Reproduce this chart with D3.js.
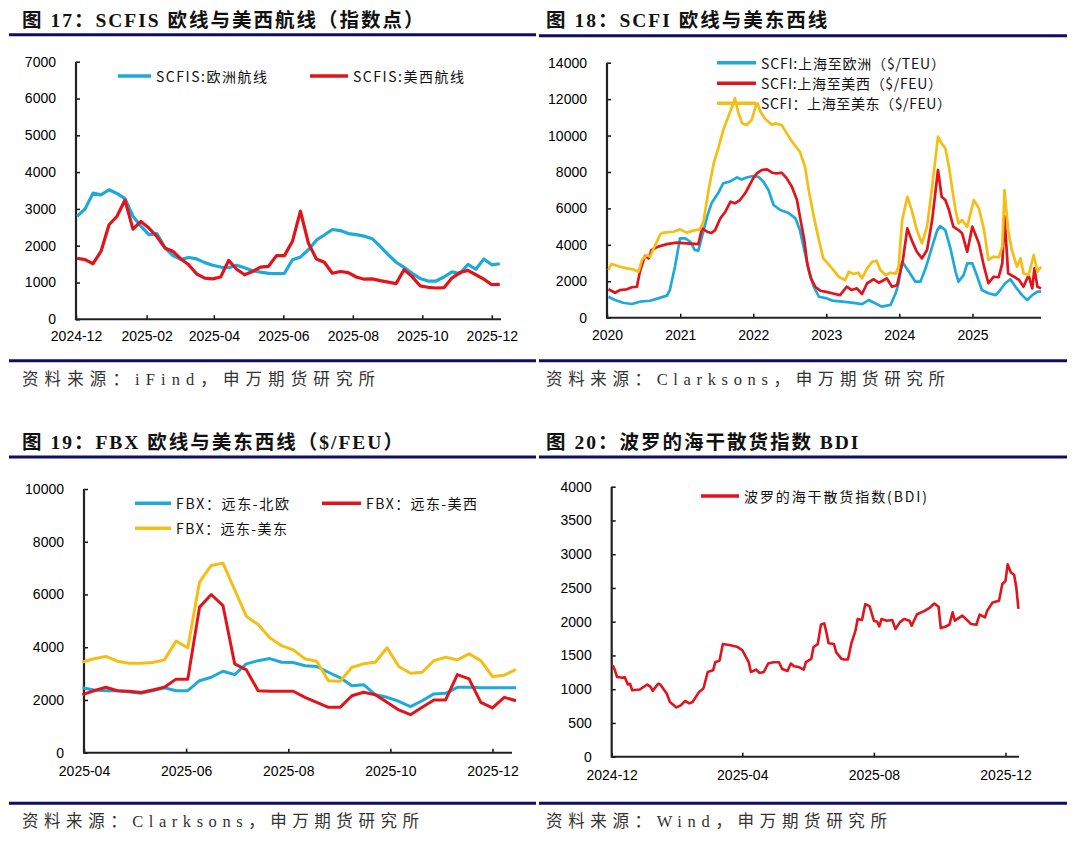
<!DOCTYPE html>
<html>
<head>
<meta charset="utf-8">
<script src="https://cdn.jsdelivr.net/npm/d3@7/dist/d3.min.js"></script>
<style>
  body { margin: 0; background: #fff; }
</style>
</head>
<body>
<svg id="page" width="1074" height="854"></svg>
<script>
// 图17 SCFIS, weekly values from scfisStart
var scfisStart = '2024-12-02';
var scfisEurope = [2800, 3000, 3430, 3380, 3520, 3420, 3280, 2800, 2530, 2300,
                   2330, 1950, 1730, 1630, 1680, 1640, 1540, 1470, 1420, 1400,
                   1470, 1400, 1320, 1280, 1250, 1240, 1250, 1620, 1690, 1890,
                   2150, 2290, 2440, 2410, 2330, 2300, 2260, 2190, 1980, 1760,
                   1550, 1410, 1250, 1110, 1040, 1040, 1150, 1290, 1240, 1490,
                   1360, 1640, 1480, 1510];
var scfisUSWest = [1660, 1620, 1510, 1850, 2570, 2800, 3240, 2450, 2660, 2480,
                   2250, 1940, 1850, 1640, 1480, 1230, 1120, 1100, 1150, 1600,
                   1360, 1210, 1300, 1420, 1440, 1730, 1730, 2120, 2940, 2070,
                   1640, 1550, 1250, 1300, 1270, 1150, 1090, 1100, 1050, 1010,
                   970, 1350, 1160, 910, 870, 850, 860, 1120, 1270, 1330,
                   1210, 1090, 940, 950];
var scfisXTicks = ['2024-12-01', '2025-02-01', '2025-04-01', '2025-06-01', '2025-08-01', '2025-10-01', '2025-12-01'];
var scfisYTicks = [0, 1000, 2000, 3000, 4000, 5000, 6000, 7000];

// 图18 SCFI, [years after 2020-01-01, value]
var scfiEurope = [[0.02,1150],[0.11,970],[0.22,820],[0.34,750],[0.45,880],[0.59,930],[0.70,1060],[0.82,1210],
  [0.86,1520],[0.93,2800],[1.00,4360],[1.07,4360],[1.14,4170],[1.20,3720],[1.25,3680],[1.30,4450],[1.37,5550],
  [1.43,6280],[1.52,6830],[1.59,7380],[1.68,7470],[1.78,7700],[1.84,7590],[1.91,7700],[2.00,7780],[2.07,7740],
  [2.14,7470],[2.21,7010],[2.28,6190],[2.37,5910],[2.48,5760],[2.58,5450],[2.64,4810],[2.69,3900],[2.76,2620],
  [2.83,1700],[2.90,1150],[3.01,1060],[3.08,940],[3.22,880],[3.35,830],[3.49,750],[3.58,970],[3.67,790],
  [3.76,610],[3.88,700],[3.95,1340],[3.99,1890],[4.04,3070],[4.13,2530],[4.22,1980],[4.29,1980],[4.36,2710],
  [4.45,3900],[4.52,4810],[4.56,5030],[4.63,4810],[4.70,3810],[4.77,2530],[4.81,1980],[4.88,2340],[4.93,2980],
  [5.00,2980],[5.06,2340],[5.13,1520],[5.22,1340],[5.32,1240],[5.38,1520],[5.45,1890],[5.52,2110],[5.59,1700],
  [5.68,1240],[5.75,970],[5.82,1240],[5.89,1430],[5.94,1430]];
var scfiUSWest = [[0.02,1560],[0.11,1370],[0.18,1520],[0.27,1560],[0.34,1670],[0.41,1700],[0.45,2530],[0.52,3390],
  [0.57,3260],[0.61,3720],[0.70,3900],[0.82,4040],[0.95,4120],[1.09,4080],[1.25,4040],[1.30,4900],[1.37,4720],
  [1.43,4650],[1.48,4810],[1.55,5450],[1.62,5820],[1.69,6370],[1.75,6280],[1.82,6460],[1.89,6830],[1.94,7190],
  [2.00,7650],[2.05,7920],[2.12,8110],[2.19,8140],[2.26,7960],[2.32,7920],[2.39,7960],[2.46,7650],[2.53,7190],
  [2.60,6460],[2.64,5550],[2.70,4260],[2.74,2980],[2.79,2160],[2.85,1700],[2.92,1480],[3.00,1420],[3.08,1340],
  [3.19,1240],[3.28,1700],[3.35,1520],[3.42,1610],[3.49,1300],[3.56,1890],[3.65,2110],[3.72,1920],[3.76,2000],
  [3.83,2160],[3.90,1700],[3.97,1790],[4.05,3170],[4.11,4900],[4.17,4260],[4.24,3620],[4.31,3260],[4.38,3720],
  [4.45,5360],[4.53,8110],[4.58,6640],[4.63,6460],[4.68,5910],[4.74,5000],[4.81,4810],[4.86,4630],[4.93,3620],
  [5.00,5000],[5.09,4080],[5.16,2800],[5.22,1890],[5.29,2250],[5.36,2220],[5.41,2980],[5.44,5550],[5.49,2430],
  [5.57,2250],[5.64,2070],[5.70,1700],[5.77,2340],[5.82,1610],[5.85,2710],[5.89,1700],[5.94,1610]];
var scfiUSEast = [[0.02,2620],[0.06,2950],[0.18,2800],[0.27,2710],[0.36,2650],[0.43,2520],[0.48,3170],[0.54,3440],
  [0.59,3350],[0.64,3810],[0.73,4590],[0.77,4670],[0.91,4720],[1.00,4850],[1.09,4670],[1.18,4780],[1.27,4850],
  [1.32,5270],[1.39,7010],[1.46,8470],[1.53,9390],[1.59,10300],[1.66,11030],[1.73,11770],[1.75,12040],[1.80,11220],
  [1.85,10670],[1.91,10580],[1.98,10850],[2.04,11680],[2.06,11770],[2.10,11310],[2.16,10940],[2.26,10580],
  [2.30,10670],[2.39,10580],[2.46,10120],[2.55,9570],[2.64,9110],[2.71,8290],[2.76,7010],[2.83,5550],[2.90,4260],
  [2.96,3250],[3.06,2800],[3.17,2250],[3.26,2070],[3.31,2530],[3.37,2400],[3.44,2470],[3.49,2160],[3.56,2710],
  [3.63,3070],[3.69,3130],[3.74,2620],[3.81,2340],[3.88,2470],[3.95,2420],[3.99,2800],[4.04,5360],[4.11,6640],
  [4.17,5910],[4.24,4810],[4.31,4080],[4.38,5000],[4.45,7190],[4.53,9940],[4.58,9570],[4.63,9300],[4.68,8290],
  [4.72,7190],[4.77,5910],[4.81,5180],[4.86,5360],[4.93,5000],[5.02,6460],[5.09,6000],[5.16,4810],[5.22,3170],
  [5.29,3350],[5.36,3310],[5.41,3900],[5.44,7010],[5.49,4810],[5.54,3720],[5.61,2800],[5.66,3260],[5.70,2430],
  [5.77,2340],[5.84,3440],[5.89,2530],[5.94,2800]];
var scfiXTicks = ['2020-01-01', '2021-01-01', '2022-01-01', '2023-01-01', '2024-01-01', '2025-01-01'];
var scfiYTicks = [0, 2000, 4000, 6000, 8000, 10000, 12000, 14000];

// 图19 FBX, weekly values from fbxStart
var fbxStart = '2025-03-31';
var fbxEurope = [2460, 2380, 2350, 2350, 2300, 2250, 2350, 2460, 2350, 2350,
                 2730, 2860, 3090, 2960, 3370, 3490, 3570, 3430, 3420, 3300,
                 3270, 3050, 2840, 2540, 2580, 2200, 2100, 1950, 1750, 1970,
                 2230, 2250, 2480, 2480, 2460, 2460, 2460, 2460];
var fbxUSWest = [2200, 2350, 2480, 2350, 2330, 2280, 2380, 2480, 2790, 2790,
                 5520, 6000, 5580, 3370, 3140, 2350, 2330, 2330, 2330, 2100,
                 1910, 1720, 1720, 2160, 2290, 2200, 1910, 1620, 1440, 1720,
                 2000, 2000, 2960, 2800, 1910, 1700, 2100, 1970];
var fbxUSEast = [3440, 3560, 3650, 3470, 3390, 3390, 3420, 3520, 4230, 3980,
                 6470, 7100, 7190, 6180, 5170, 4860, 4360, 4060, 3900, 3560,
                 3470, 2730, 2710, 3240, 3370, 3430, 3980, 3270, 3010, 3050,
                 3490, 3620, 3520, 3750, 3490, 2890, 2940, 3160];
var fbxXTicks = ['2025-04-01', '2025-06-01', '2025-08-01', '2025-10-01', '2025-12-01'];
var fbxYTicks = [0, 2000, 4000, 6000, 8000, 10000];

// 图20 BDI
var bdiDates = ['2024-12-02','2024-12-04','2024-12-06','2024-12-11','2024-12-13','2024-12-16','2024-12-18',
  '2024-12-20','2024-12-27','2025-01-03','2025-01-06','2025-01-08','2025-01-13','2025-01-15','2025-01-21',
  '2025-01-24','2025-01-30','2025-02-03','2025-02-07','2025-02-11','2025-02-14','2025-02-20','2025-02-24',
  '2025-02-28','2025-03-05','2025-03-07','2025-03-11','2025-03-14','2025-03-21','2025-03-27','2025-04-01',
  '2025-04-07','2025-04-09','2025-04-14','2025-04-17','2025-04-21','2025-04-25','2025-04-30','2025-05-05',
  '2025-05-08','2025-05-13','2025-05-16','2025-05-19','2025-05-23','2025-05-28','2025-05-30','2025-06-04',
  '2025-06-06','2025-06-10','2025-06-13','2025-06-16','2025-06-18','2025-06-20','2025-06-25','2025-06-27',
  '2025-07-02','2025-07-04','2025-07-08','2025-07-11','2025-07-15','2025-07-17','2025-07-21','2025-07-24',
  '2025-07-28','2025-08-01','2025-08-04','2025-08-06','2025-08-08','2025-08-13','2025-08-18','2025-08-21',
  '2025-08-25','2025-08-29','2025-09-03','2025-09-05','2025-09-10','2025-09-17','2025-09-22','2025-09-26',
  '2025-09-30','2025-10-02','2025-10-06','2025-10-10','2025-10-13','2025-10-15','2025-10-22','2025-10-27',
  '2025-10-30','2025-11-04','2025-11-07','2025-11-12','2025-11-14','2025-11-19','2025-11-25','2025-11-28',
  '2025-12-01','2025-12-03','2025-12-06','2025-12-09','2025-12-11','2025-12-13'];
var bdiValues = [1353, 1280, 1180, 1170, 1180, 1070, 1080, 985, 995, 1070,
                 1035, 975, 1080, 1070, 935, 810, 730, 760, 825, 790,
                 810, 960, 1010, 1255, 1280, 1400, 1425, 1670, 1650, 1630,
                 1580, 1400, 1255, 1290, 1240, 1255, 1380, 1400, 1400, 1300,
                 1270, 1380, 1340, 1330, 1290, 1400, 1450, 1620, 1670, 1960,
                 1975, 1845, 1680, 1670, 1550, 1450, 1440, 1440, 1670, 1870,
                 2040, 2025, 2260, 2230, 2015, 2000, 1930, 2040, 2015, 2025,
                 1890, 1990, 2040, 2015, 1940, 2110, 2160, 2210, 2270, 2220,
                 1905, 1925, 1955, 2140, 2015, 2090, 2015, 1965, 1955, 2105,
                 2065, 2160, 2285, 2310, 2555, 2605, 2850, 2730, 2695, 2510, 2190];
var bdiXTicks = ['2024-12-01', '2025-04-01', '2025-08-01', '2025-12-01'];
var bdiYTicks = [0, 500, 1000, 1500, 2000, 2500, 3000, 3500, 4000];

var navy = '#0f0f62';
var blue = '#1ea9dc', red = '#e1141b', gold = '#f5be14';
var titleFont = "'Liberation Serif', 'Noto Sans CJK SC', serif";
var sourceFont = "'Liberation Serif', 'Noto Sans CJK SC', serif";
var tickFont = "'Liberation Sans', Arial, sans-serif";
var legendFont = "'Noto Sans CJK SC', sans-serif";

var parse = d3.timeParse('%Y-%m-%d');
var svg = d3.select('#page');

function weekly(start, values) {
    var t0 = parse(start);
    return values.map(function(v, i) { return { date: d3.timeDay.offset(t0, i * 7), value: v }; });
}

function fromYears(base, pairs) {
    var t0 = parse(base).getTime();
    return pairs.map(function(p) { return { date: new Date(t0 + p[0] * 365.25 * 864e5), value: p[1] }; });
}

function dated(dates, values) {
    return dates.map(function(d, i) { return { date: parse(d), value: values[i] }; });
}

function label(x, y, text, opts) {
    var t = svg.append('text')
        .attr('x', x).attr('y', y)
        .attr('dominant-baseline', 'central')
        .attr('font-family', opts.font)
        .attr('font-size', opts.size)
        .attr('fill', opts.fill || '#000')
        .text(text);
    if (opts.bold) t.attr('font-weight', 'bold');
    if (opts.spacing) t.attr('letter-spacing', opts.spacing);
    if (opts.width) t.attr('textLength', opts.width).attr('lengthAdjust', 'spacing');
    return t;
}

function rule(x1, x2, y) {
    svg.append('line').attr('x1', x1).attr('x2', x2).attr('y1', y).attr('y2', y)
       .attr('stroke', navy).attr('stroke-width', 3);
}

function frame(f) {
    label(f.left, f.titleY, f.title, { font: titleFont, size: 19.5, bold: true, fill: '#111', spacing: 2 });
    rule(f.ruleX1, f.ruleX2, f.topRule);
    rule(f.ruleX1, f.ruleX2, f.bottomRule);
    label(f.left, f.sourceY, f.source, { font: sourceFont, size: 16.5, fill: '#333', width: f.sourceW });
}

function chart(c) {
    var x = d3.scaleTime().domain(c.xDomain.map(parse)).range([c.x0, c.x1]);
    var y = d3.scaleLinear().domain([0, c.yMax]).range([c.y0, c.y1]);

    var ya = svg.append('g').attr('transform', 'translate(' + c.x0 + ',0)')
        .call(d3.axisLeft(y).tickValues(c.yTicks).tickSize(-4).tickPadding(20).tickFormat(d3.format('d')));
    var xa = svg.append('g').attr('transform', 'translate(0,' + c.y0 + ')')
        .call(d3.axisBottom(x).tickValues(c.xTicks.map(parse)).tickSize(-4).tickPadding(c.xPad)
              .tickFormat(d3.timeFormat(c.xFormat)));
    [ya, xa].forEach(function(a) {
        a.select('.domain').remove();
        a.selectAll('line').attr('stroke', '#111').attr('stroke-width', 1.5);
        a.selectAll('text').attr('font-family', tickFont).attr('font-size', 14).attr('fill', '#000');
    });
    svg.append('line').attr('x1', c.x0).attr('x2', c.x0).attr('y1', y(c.yMax)).attr('y2', c.y0 + 1)
       .attr('stroke', '#222').attr('stroke-width', 2.2);
    svg.append('line').attr('x1', c.x0).attr('x2', c.xEnd).attr('y1', c.y0).attr('y2', c.y0)
       .attr('stroke', '#222').attr('stroke-width', 2);

    var line = d3.line().x(function(d) { return x(d.date); }).y(function(d) { return y(d.value); });
    c.series.forEach(function(s) {
        svg.append('path').datum(s.data).attr('d', line)
           .attr('fill', 'none').attr('stroke', s.color).attr('stroke-width', c.lineWidth)
           .attr('stroke-linejoin', 'round');
    });

    c.legend.forEach(function(l) {
        svg.append('line').attr('x1', l.x).attr('x2', l.x + l.len).attr('y1', l.y).attr('y2', l.y)
           .attr('stroke', l.color).attr('stroke-width', 3.5);
        label(l.x + l.len + 5, l.y, l.text, { font: legendFont, size: 14, fill: '#111', width: l.w });
    });
}

// 图17
frame({ left: 22, titleY: 20.5, title: '图 17：SCFIS 欧线与美西航线（指数点）',
        ruleX1: 9, ruleX2: 536, topRule: 34.7, bottomRule: 360.7,
        sourceY: 379, source: '资料来源：iFind，申万期货研究所', sourceW: 353 });
chart({
    x0: 76, x1: 491.8, xEnd: 501, y0: 319.3, y1: 61.7, yMax: 7000, xPad: 11.5,
    xDomain: ['2024-12-01', '2025-12-01'], xTicks: scfisXTicks, xFormat: '%Y-%m', yTicks: scfisYTicks,
    lineWidth: 3.2,
    series: [
        { data: weekly(scfisStart, scfisEurope), color: blue },
        { data: weekly(scfisStart, scfisUSWest), color: red }
    ],
    legend: [
        { x: 118, len: 33, y: 76, color: blue, text: 'SCFIS:欧洲航线', w: 111 },
        { x: 310, len: 38, y: 76, color: red, text: 'SCFIS:美西航线', w: 111 }
    ]
});

// 图18
frame({ left: 546, titleY: 20.8, title: '图 18：SCFI 欧线与美东西线',
        ruleX1: 539, ruleX2: 1067, topRule: 35.8, bottomRule: 360.7,
        sourceY: 379, source: '资料来源：Clarksons，申万期货研究所', sourceW: 399 });
chart({
    x0: 607, x1: 972.5, xEnd: 1041, y0: 317.7, y1: 62.7, yMax: 14000, xPad: 12.8,
    xDomain: ['2020-01-01', '2025-01-01'], xTicks: scfiXTicks, xFormat: '%Y', yTicks: scfiYTicks,
    lineWidth: 2.7,
    series: [
        { data: fromYears('2020-01-01', scfiEurope), color: blue },
        { data: fromYears('2020-01-01', scfiUSWest), color: red },
        { data: fromYears('2020-01-01', scfiUSEast), color: gold }
    ],
    legend: [
        { x: 717, len: 39, y: 62.7, color: blue, text: 'SCFI:上海至欧洲（$/TEU）', w: 184 },
        { x: 717, len: 39, y: 83.3, color: red, text: 'SCFI:上海至美西（$/FEU）', w: 181 },
        { x: 717, len: 39, y: 103.3, color: gold, text: 'SCFI：上海至美东（$/FEU）', w: 190 }
    ]
});

// 图19
frame({ left: 22, titleY: 442, title: '图 19：FBX 欧线与美东西线（$/FEU）',
        ruleX1: 9, ruleX2: 536, topRule: 457, bottomRule: 803.3,
        sourceY: 821, source: '资料来源：Clarksons，申万期货研究所', sourceW: 397 });
chart({
    x0: 84, x1: 492.5, xEnd: 512, y0: 752.7, y1: 489, yMax: 10000, xPad: 13.2,
    xDomain: ['2025-04-01', '2025-12-01'], xTicks: fbxXTicks, xFormat: '%Y-%m', yTicks: fbxYTicks,
    lineWidth: 3,
    series: [
        { data: weekly(fbxStart, fbxEurope), color: blue },
        { data: weekly(fbxStart, fbxUSWest), color: red },
        { data: weekly(fbxStart, fbxUSEast), color: gold }
    ],
    legend: [
        { x: 135, len: 36, y: 503.3, color: blue, text: 'FBX：远东-北欧', w: 113 },
        { x: 322, len: 39, y: 503.3, color: red, text: 'FBX：远东-美西', w: 111 },
        { x: 135, len: 36, y: 528.3, color: gold, text: 'FBX：远东-美东', w: 111 }
    ]
});

// 图20
frame({ left: 546, titleY: 442, title: '图 20：波罗的海干散货指数 BDI',
        ruleX1: 539, ruleX2: 1067, topRule: 457, bottomRule: 803.3,
        sourceY: 821, source: '资料来源：Wind，申万期货研究所', sourceW: 341 });
chart({
    x0: 611.7, x1: 1005.5, xEnd: 1019, y0: 756.7, y1: 486.7, yMax: 4000, xPad: 13.5,
    xDomain: ['2024-12-01', '2025-12-01'], xTicks: bdiXTicks, xFormat: '%Y-%m', yTicks: bdiYTicks,
    lineWidth: 2.6,
    series: [
        { data: dated(bdiDates, bdiValues), color: red }
    ],
    legend: [
        { x: 701, len: 38, y: 496, color: red, text: '波罗的海干散货指数(BDI)', w: 183 }
    ]
});
</script>
</body>
</html>
